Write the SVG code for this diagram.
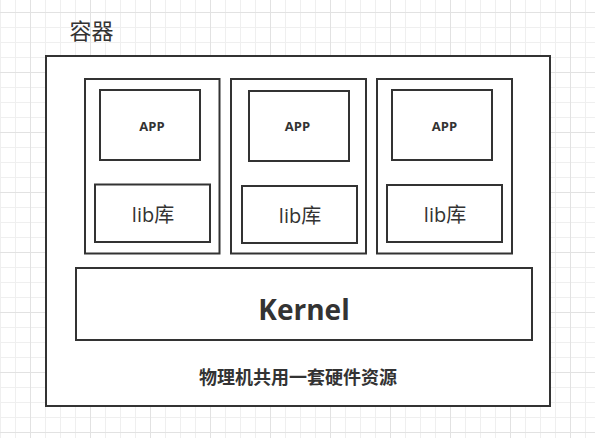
<svg xmlns="http://www.w3.org/2000/svg" width="595" height="438" viewBox="0 0 595 438">
  <defs>
    <pattern id="grid" x="30" y="12" width="60" height="60" patternUnits="userSpaceOnUse">
      <path d="M15.5 0V60M30.5 0V60M45.5 0V60M0 15.5H60M0 30.5H60M0 45.5H60" stroke="#efefef" stroke-width="1" fill="none"/>
      <path d="M0.5 0V60M0 0.5H60" stroke="#e2e2e2" stroke-width="1" fill="none"/>
    </pattern>
  </defs>
  <style>
    .box { fill: #ffffff; stroke: #333333; stroke-width: 2; }
    .t { font-family: "Open Sans", "Noto Sans CJK SC", sans-serif; fill: #333333; }
    .app { font-size: 13px; font-weight: bold; text-anchor: middle; }
    .lib { font-size: 20px; text-anchor: middle; }
  </style>
  <rect width="595" height="438" fill="#ffffff"/>
  <rect width="595" height="438" fill="url(#grid)"/>

  <g id="title">
    <text class="t" x="69.5" y="39" font-size="22">容器</text>
  </g>

  <g id="host">
    <rect class="box" x="46" y="56" width="504" height="350"/>
    <text class="t" x="298" y="384" font-size="18" font-weight="bold" text-anchor="middle">物理机共用一套硬件资源</text>
  </g>

  <g id="container1">
    <rect class="box" x="85" y="79" width="134.5" height="174.5"/>
  </g>
  <g id="container2">
    <rect class="box" x="231" y="79" width="135" height="174.5"/>
  </g>
  <g id="container3">
    <rect class="box" x="377" y="79" width="135" height="174.5"/>
  </g>

  <g id="app1">
    <rect class="box" x="100" y="90" width="100" height="70"/>
    <text class="t app" x="152" y="131">APP</text>
  </g>
  <g id="app2">
    <rect class="box" x="249" y="91" width="100" height="70"/>
    <text class="t app" x="297.5" y="131">APP</text>
  </g>
  <g id="app3">
    <rect class="box" x="392" y="90" width="100" height="70"/>
    <text class="t app" x="444.5" y="131">APP</text>
  </g>

  <g id="lib1">
    <rect class="box" x="95" y="184.5" width="115" height="57.5"/>
    <text class="t lib" x="153" y="222">lib库</text>
  </g>
  <g id="lib2">
    <rect class="box" x="242" y="186" width="115" height="57"/>
    <text class="t lib" x="300" y="223">lib库</text>
  </g>
  <g id="lib3">
    <rect class="box" x="387" y="185" width="115" height="57"/>
    <text class="t lib" x="445" y="222">lib库</text>
  </g>

  <g id="kernel">
    <rect class="box" x="76" y="268" width="456" height="72"/>
    <text class="t" x="304" y="320" font-size="28" font-weight="bold" text-anchor="middle">Kernel</text>
  </g>

  <g id="connectors"></g>
</svg>
